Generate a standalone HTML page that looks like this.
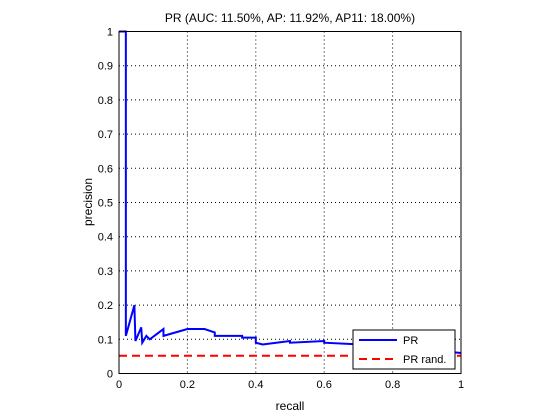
<!DOCTYPE html>
<html><head><meta charset="utf-8"><style>
body{margin:0;background:#fff;}
svg{display:block;font-family:"Liberation Sans",sans-serif;}
</style></head><body>
<svg id="chart" width="560" height="420" viewBox="0 0 560 420">
<rect x="0" y="0" width="560" height="420" fill="#fff"/>
<g id="grid"></g>
<g id="series"></g>
<rect x="119" y="31.5" width="342" height="342" fill="none" stroke="#000" stroke-width="1"/>
<g id="ticks" font-size="11"></g>
<text x="290" y="22" font-size="12" text-anchor="middle">PR (AUC: 11.50%, AP: 11.92%, AP11: 18.00%)</text>
<text x="290" y="410" font-size="12" text-anchor="middle">recall</text>
<text transform="translate(92,202) rotate(-90)" font-size="12" text-anchor="middle">precision</text>
<g>
<rect x="353" y="330" width="102" height="39" fill="#fff" stroke="#000"/>
<line x1="359" y1="340" x2="397" y2="340" stroke="#0000ff" stroke-width="2"/>
<text x="403" y="344" font-size="11">PR</text>
<line x1="359" y1="359" x2="397" y2="359" stroke="#ff0000" stroke-width="2" stroke-dasharray="8,5"/>
<text x="403" y="363" font-size="11">PR rand.</text>
</g>
</svg>
<script>
const recall=[0,0.02,0.02,0.045,0.048,0.065,0.068,0.08,0.09,0.13,0.13,0.2,0.25,0.28,0.28,0.36,0.36,0.4,0.4,0.42,0.5,0.5,0.6,0.6,0.7,0.8,1];
const precision=[1,1,0.11,0.2,0.095,0.135,0.09,0.11,0.10,0.13,0.11,0.13,0.13,0.12,0.11,0.11,0.105,0.105,0.09,0.085,0.095,0.09,0.095,0.09,0.085,0.08,0.06];
const randPrecision=0.052;
const xTicks=[0,0.2,0.4,0.6,0.8,1];
const yTicks=[0,0.1,0.2,0.3,0.4,0.5,0.6,0.7,0.8,0.9,1];
const NS="http://www.w3.org/2000/svg";
const X=v=>119+v*342, Y=v=>373.5-v*342;
const grid=document.getElementById('grid'),ticks=document.getElementById('ticks'),series=document.getElementById('series');
function mk(tag,attrs,parent){const e=document.createElementNS(NS,tag);for(const k in attrs)e.setAttribute(k,attrs[k]);parent.appendChild(e);return e;}
xTicks.forEach(t=>{
 const g=mk('line',{x1:X(t),x2:X(t),y1:31.5,y2:373.5,stroke:'#000','stroke-width':1,'stroke-dasharray':'1,3'},grid);
 
 
 const l=mk('text',{x:X(t),y:388,'text-anchor':'middle'},ticks);l.textContent=String(t);
 
 
});
yTicks.forEach(t=>{
 const g=mk('line',{x1:119,x2:461,y1:Y(t),y2:Y(t),stroke:'#000','stroke-width':1,'stroke-dasharray':'1,3'},grid);
 
 
 const l=mk('text',{x:113,y:Y(t)+4,'text-anchor':'end'},ticks);l.textContent=String(t);
 
 
});
const r=mk('line',{x1:X(0),x2:X(1),y1:Y(randPrecision),y2:Y(randPrecision),stroke:'#ff0000','stroke-width':2,'stroke-dasharray':'8,5'},series);


const p=mk('polyline',{points:recall.map((v,i)=>X(v)+','+Y(precision[i])).join(' '),fill:'none',stroke:'#0000ff','stroke-width':2},series);


</script>
</body></html>
